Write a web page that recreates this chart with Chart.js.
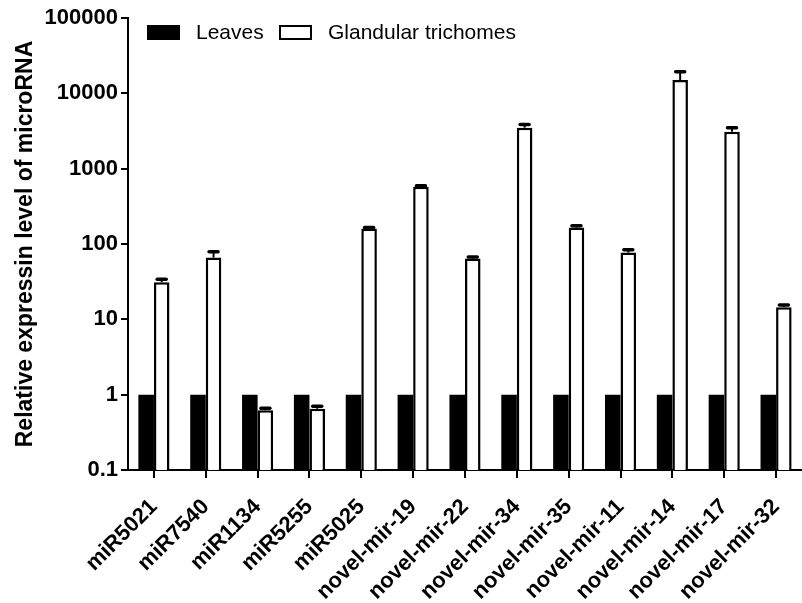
<!DOCTYPE html>
<html>
<head>
<meta charset="utf-8">
<script src="https://cdn.jsdelivr.net/npm/chart.js@4.4.0/dist/chart.umd.min.js"></script>
<style>
  html, body { margin: 0; padding: 0; background: #fff; }
</style>
</head>
<body>
<canvas id="barChart" width="802" height="603"></canvas>
<script>
var categories = ['miR5021', 'miR7540', 'miR1134', 'miR5255', 'miR5025', 'novel-mir-19', 'novel-mir-22',
  'novel-mir-34', 'novel-mir-35', 'novel-mir-11', 'novel-mir-14', 'novel-mir-17', 'novel-mir-32'];
var leaves = [1, 1, 1, 1, 1, 1, 1, 1, 1, 1, 1, 1, 1];
var trichomes = [31, 66, 0.62, 0.65, 160, 575, 64, 3500, 165, 77, 15000, 3100, 14.5];
var trichomesSd = [3, 13, 0.04, 0.05, 6, 20, 3, 350, 10, 7, 4300, 400, 1];
var yTicks = [0.1, 1, 10, 100, 1000, 10000, 100000];

var fontFamily = '"Liberation Sans", Arial, sans-serif';

// upper error bars on the trichome bars
var errorBars = {
  id: 'errorBars',
  afterDatasetsDraw: function(chart) {
    var meta = chart.getDatasetMeta(1);
    var y = chart.scales.y;
    var ctx = chart.ctx;
    ctx.save();
    ctx.strokeStyle = '#000';
    meta.data.forEach(function(bar, i) {
      var top = y.getPixelForValue(trichomes[i] + trichomesSd[i]);
      ctx.lineWidth = 2;
      ctx.beginPath();
      ctx.moveTo(bar.x, bar.y);
      ctx.lineTo(bar.x, top);
      ctx.stroke();
      ctx.lineWidth = 3.5;
      ctx.lineCap = 'round';
      ctx.beginPath();
      ctx.moveTo(bar.x - 4.5, top);
      ctx.lineTo(bar.x + 4.5, top);
      ctx.stroke();
      ctx.lineCap = 'butt';
    });
    ctx.restore();
  }
};

// legend drawn inside the plot area, top left
var innerLegend = {
  id: 'innerLegend',
  afterDraw: function(chart) {
    var ctx = chart.ctx;
    var sets = chart.data.datasets;
    var spots = [147, 279];
    ctx.save();
    ctx.font = '21px ' + fontFamily;
    ctx.textBaseline = 'middle';
    sets.forEach(function(ds, i) {
      var x = spots[i];
      ctx.fillStyle = ds.backgroundColor;
      ctx.fillRect(x, 25, 33, 15);
      ctx.strokeStyle = '#000';
      ctx.lineWidth = 2;
      ctx.strokeRect(x + 1, 26, 31, 13);
      ctx.fillStyle = '#000';
      ctx.fillText(ds.label, x + 49, 33);
    });
    ctx.restore();
  }
};

var barChart = new Chart(document.getElementById('barChart'), {
  type: 'bar',
  data: {
    labels: categories,
    datasets: [
      {
        label: 'Leaves',
        data: leaves,
        backgroundColor: '#000',
        borderColor: '#000',
        borderWidth: 0
      },
      {
        label: 'Glandular trichomes',
        data: trichomes,
        backgroundColor: '#fff',
        borderColor: '#000',
        borderWidth: 2.5
      }
    ]
  },
  options: {
    responsive: false,
    animation: false,
    devicePixelRatio: 1,
    categoryPercentage: 0.6,
    barPercentage: 1.0,
    layout: { padding: { top: 18, right: 0, left: 0, bottom: 0 } },
    plugins: {
      legend: { display: false },
      tooltip: { enabled: false }
    },
    scales: {
      x: {
        offset: true,
        grid: { offset: false, drawOnChartArea: false, drawTicks: true, tickLength: 8, color: '#000', lineWidth: 2 },
        border: { display: true, color: '#000', width: 2 },
        ticks: {
          autoSkip: false,
          minRotation: 45,
          maxRotation: 45,
          padding: 16,
          color: '#000',
          font: { family: fontFamily, size: 22, weight: 'bold' }
        },
        afterFit: function(scale) {
          scale.height = 133;
          scale.paddingLeft = 0;
          scale.paddingRight = 0;
        }
      },
      y: {
        type: 'logarithmic',
        min: 0.1,
        max: 100000,
        afterBuildTicks: function(scale) {
          scale.ticks = yTicks.map(function(v) { return { value: v }; });
        },
        grid: { drawOnChartArea: false, drawTicks: true, tickLength: 7, color: '#000', lineWidth: 2 },
        border: { display: true, color: '#000', width: 2 },
        ticks: {
          padding: 3,
          color: '#000',
          font: { family: fontFamily, size: 22, weight: 'bold' },
          callback: function(v) { return String(v); }
        },
        title: {
          display: true,
          text: 'Relative expressin level of microRNA',
          color: '#000',
          padding: { top: 12, bottom: 0 },
          font: { family: fontFamily, size: 23, weight: 'bold' }
        },
        afterFit: function(scale) { scale.width = 128; }
      }
    }
  },
  plugins: [errorBars, innerLegend]
});
</script>
</body>
</html>
